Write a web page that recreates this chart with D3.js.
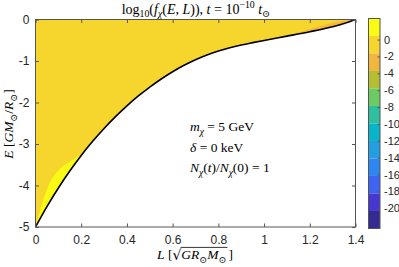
<!DOCTYPE html>
<html>
<head>
<meta charset="utf-8">
<script src="https://cdn.jsdelivr.net/npm/d3@7"></script>
<style>
  body { margin: 0; background: #fff; }
  text { white-space: pre; }
</style>
</head>
<body>
<div id="chart"></div>
<script>
// Data
// lower boundary of the allowed region, E_min(L)
const L_vals = [0, 0.05, 0.1, 0.15, 0.2, 0.25, 0.3, 0.35, 0.4, 0.45, 0.5, 0.55, 0.6, 0.65, 0.7,
                0.75, 0.8, 0.85, 0.9, 0.95, 1.0, 1.1, 1.2, 1.3, 1.35, 1.4];
const E_min = [-5.0, -4.51, -4.06, -3.65, -3.275, -2.935, -2.625, -2.34, -2.08, -1.843, -1.628, -1.433,
               -1.258, -1.103, -0.968, -0.853, -0.758, -0.68, -0.615, -0.558, -0.504, -0.401, -0.295,
               -0.175, -0.098, 0];

// edge of the top band (bright yellow) near the core
const hot_L = [0, 0.017, 0.049, 0.07, 0.095, 0.125, 0.16, 0.2];
const hot_E = [-5.0, -4.67, -4.11, -3.86, -3.67, -3.52, -3.39, -3.26];

// edge of the third band (orange) near L_max
const warm_L = [1.1, 1.2, 1.3, 1.35, 1.4];
const warm_E = [-0.4, -0.235, -0.085, -0.032, 0];

// contour levels, top to bottom, and their colours
const levels = [2.5, 0.43, -1.64, -3.72, -5.79, -7.87, -9.94, -12.02, -14.09, -16.17, -18.24, -20.32, -22.4];
const band_colors = ['#f9fb15', '#f6d52c', '#f2b63e', '#b5bd32', '#6ccb63', '#2ebf9f',
                     '#08b4ca', '#219fe0', '#2d86f2', '#3c63f2', '#4537d2', '#352a94'];

const x_ticks = [0, 0.2, 0.4, 0.6, 0.8, 1, 1.2, 1.4];
const y_ticks = [0, -1, -2, -3, -4, -5];
const cbar_ticks = [0, -2, -4, -6, -8, -10, -12, -14, -16, -18, -20];

const chart_width = 399;
const chart_height = 267;
const plot = {left: 35.5, right: 355.5, top: 19.5, bottom: 227};
const cbar = {left: 368.5, right: 380, top: 18.5, bottom: 228.5};
const axis_color = '#555';
const text_color = '#262626';
const serif = "'Liberation Serif', 'DejaVu Serif', serif";
const sans = "'Liberation Sans', Arial, sans-serif";

const curve_data = L_vals.map((l, i) => ({L: l, E: E_min[i]}));
const hot_data = hot_L.map((l, i) => ({L: l, E: hot_E[i]}));
const warm_data = warm_L.map((l, i) => ({L: l, E: warm_E[i]}));

// Scales
const x_scale = d3.scaleLinear().domain([0, 1.4]).range([plot.left, plot.right]);
const y_scale = d3.scaleLinear().domain([-5, 0]).range([plot.bottom, plot.top]);
const c_scale = d3.scaleLinear().domain([levels[levels.length - 1], levels[0]])
    .range([cbar.bottom, cbar.top]);

const smooth = d3.curveMonotoneX;

// Create SVG
const svg = d3.select('#chart')
    .append('svg')
    .attr('width', chart_width)
    .attr('height', chart_height);

svg.append('clipPath').attr('id', 'clip')
    .append('rect')
    .attr('x', plot.left).attr('y', plot.top)
    .attr('width', plot.right - plot.left)
    .attr('height', plot.bottom - plot.top);

const field = svg.append('g').attr('clip-path', 'url(#clip)');

// Filled bands
field.append('path')
    .datum(curve_data)
    .attr('fill', band_colors[1])
    .attr('d', d3.area()
        .curve(smooth)
        .x(d => x_scale(d.L))
        .y0(y_scale(0))
        .y1(d => y_scale(d.E)));

field.append('path')
    .datum(hot_data)
    .attr('fill', band_colors[0])
    .attr('d', d3.area()
        .curve(d3.curveMonotoneY)
        .y(d => y_scale(d.E))
        .x0(d => x_scale(d.L))
        .x1(x_scale(0.35)));

field.append('path')
    .datum(warm_data)
    .attr('fill', band_colors[2])
    .attr('d', d3.area()
        .curve(d3.curveMonotoneX)
        .x(d => x_scale(d.L))
        .y0(d => y_scale(d.E))
        .y1(y_scale(-1)));

// forbidden region below E_min
field.append('path')
    .datum(curve_data)
    .attr('fill', '#fff')
    .attr('d', d3.area()
        .curve(smooth)
        .x(d => x_scale(d.L))
        .y0(d => y_scale(d.E))
        .y1(y_scale(-5) + 2));

field.append('path')
    .datum(curve_data)
    .attr('fill', 'none')
    .attr('stroke', '#000')
    .attr('stroke-width', 1.6)
    .attr('d', d3.line()
        .curve(smooth)
        .x(d => x_scale(d.L))
        .y(d => y_scale(d.E)));

// Axes
function style_axis(g, labels) {
    g.select('.domain').remove();
    g.selectAll('.tick line').attr('stroke', axis_color);
    g.selectAll('.tick text')
        .attr('fill', text_color)
        .attr('font-family', sans)
        .attr('font-size', 12)
        .style('display', labels ? null : 'none');
}

svg.append('g')
    .attr('transform', `translate(0, ${plot.bottom})`)
    .call(d3.axisBottom(x_scale).tickValues(x_ticks).tickSize(-3.5).tickPadding(8)
        .tickFormat(d3.format('~g')))
    .call(g => style_axis(g, true));

svg.append('g')
    .attr('transform', `translate(0, ${plot.top})`)
    .call(d3.axisTop(x_scale).tickValues(x_ticks).tickSize(-3.5))
    .call(g => style_axis(g, false));

svg.append('g')
    .attr('transform', `translate(${plot.left}, 0)`)
    .call(d3.axisLeft(y_scale).tickValues(y_ticks).tickSize(-3.5).tickPadding(6)
        .tickFormat(d => d === 0 ? '0' : '-' + Math.abs(d)))
    .call(g => style_axis(g, true));

svg.append('g')
    .attr('transform', `translate(${plot.right}, 0)`)
    .call(d3.axisRight(y_scale).tickValues(y_ticks).tickSize(-3.5))
    .call(g => style_axis(g, false));

svg.append('rect')
    .attr('x', plot.left).attr('y', plot.top)
    .attr('width', plot.right - plot.left)
    .attr('height', plot.bottom - plot.top)
    .attr('fill', 'none')
    .attr('stroke', axis_color)
    .attr('stroke-width', 1);

// Colorbar
const cbar_g = svg.append('g');
cbar_g.selectAll('rect.band')
    .data(band_colors)
    .join('rect')
    .attr('class', 'band')
    .attr('x', cbar.left)
    .attr('width', cbar.right - cbar.left)
    .attr('y', (d, i) => c_scale(levels[i]))
    .attr('height', (d, i) => c_scale(levels[i + 1]) - c_scale(levels[i]))
    .attr('fill', d => d);

cbar_g.append('g')
    .attr('transform', `translate(${cbar.right}, 0)`)
    .call(d3.axisRight(c_scale).tickValues(cbar_ticks).tickSize(-2.5).tickPadding(4)
        .tickFormat(d => d === 0 ? '0' : '-' + Math.abs(d)))
    .call(g => style_axis(g, true))
    .call(g => g.selectAll('.tick text').attr('font-size', 11));

cbar_g.append('rect')
    .attr('x', cbar.left).attr('y', cbar.top)
    .attr('width', cbar.right - cbar.left)
    .attr('height', cbar.bottom - cbar.top)
    .attr('fill', 'none')
    .attr('stroke', axis_color);

// Math-like text: parts are [string, kind], kind: r roman, i italic, with _ sub or ^ sup
function math_text(parent, parts, size) {
    const t = parent.append('text')
        .attr('font-family', serif)
        .attr('font-size', size)
        .attr('fill', '#000');
    let cur = 0;
    parts.forEach(([s, kind]) => {
        let off = 0, fs = size;
        if (kind.includes('_')) { off = 0.28 * size; fs = 0.7 * size; }
        if (kind.includes('^')) { off = -0.42 * size; fs = 0.7 * size; }
        t.append('tspan')
            .attr('dy', off - cur)
            .attr('font-size', fs)
            .attr('font-style', kind.includes('i') ? 'italic' : 'normal')
            .text(s);
        cur = off;
    });
    return t;
}

// Title
math_text(svg, [
    ['log', 'r'], ['10', '_r'], ['(', 'r'], ['f', 'i'], ['χ', '_i'], ['(', 'r'], ['E', 'i'], [', ', 'r'],
    ['L', 'i'], ['))', 'r'], [', ', 'r'], ['t', 'i'], [' = 10', 'r'], ['−10', '^r'], [' t', 'i'], ['⊙', '_r']
], 14)
    .attr('x', 196).attr('y', 13.5).attr('text-anchor', 'middle');

// Annotations
math_text(svg, [['m', 'i'], ['χ', '_i'], [' = 5 GeV', 'r']], 13.5)
    .attr('x', 190).attr('y', 131);
math_text(svg, [['δ', 'i'], [' = 0 keV', 'r']], 13.5)
    .attr('x', 190).attr('y', 152);
math_text(svg, [['N', 'i'], ['χ', '_i'], ['(', 'r'], ['t', 'i'], [')/', 'r'], ['N', 'i'], ['χ', '_i'],
    ['(0) = 1', 'r']], 13.5)
    .attr('x', 190).attr('y', 172);

// Y label
math_text(svg, [['E', 'i'], [' [', 'r'], ['GM', 'i'], ['⊙', '_r'], ['/', 'r'], ['R', 'i'], ['⊙', '_r'], [']', 'r']], 13.5)
    .attr('text-anchor', 'middle')
    .attr('transform', 'translate(13, 124) rotate(-90)');

// X label with square root
const xl = svg.append('g');
const xl_a = math_text(xl, [['L', 'i'], [' [', 'r']], 13.5);
const xl_root = xl.append('text').attr('font-family', "'DejaVu Serif', serif").attr('font-size', 14).text('√');
const xl_b = math_text(xl, [['GR', 'i'], ['⊙', '_r'], ['M', 'i'], ['⊙', '_r']], 13.5);
const xl_c = math_text(xl, [[']', 'r']], 13.5);
const wa = xl_a.node().getComputedTextLength();
const wr = xl_root.node().getComputedTextLength();
const wb = xl_b.node().getBBox().width;
const total = wa + wr + wb + 2 + xl_c.node().getComputedTextLength();
const x0 = 195 - total / 2;
const base = 259;
xl_a.attr('x', x0).attr('y', base);
xl_root.attr('x', x0 + wa).attr('y', base + 1);
xl_b.attr('x', x0 + wa + wr).attr('y', base);
xl.append('line')
    .attr('x1', x0 + wa + wr - 0.8).attr('x2', x0 + wa + wr + wb + 1)
    .attr('y1', base - 11.6).attr('y2', base - 11.6)
    .attr('stroke', '#000').attr('stroke-width', 0.8);
xl_c.attr('x', x0 + wa + wr + wb + 2).attr('y', base);
</script>
</body>
</html>
